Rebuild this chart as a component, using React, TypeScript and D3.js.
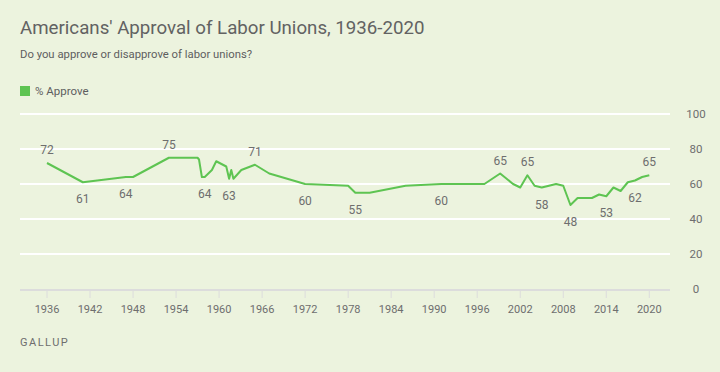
import React from 'react';
import * as d3 from 'd3';

// Gallup: % approve of labor unions
const years = [1936, 1941, 1947, 1948, 1953, 1957, 1957.2, 1957.6, 1958, 1959, 1959.6, 1961, 1961.4, 1961.7, 1962,
  1963.1, 1965, 1967, 1972, 1978, 1979, 1981, 1986, 1991, 1997, 1999.2, 2001, 2002, 2003, 2004, 2005, 2007, 2008,
  2009, 2010, 2012, 2013, 2014, 2015, 2016, 2017, 2018, 2019, 2020];
const approve = [72, 61, 64, 64, 75, 75, 74, 64, 64, 68, 73, 70, 63, 68, 63,
  68, 71, 66, 60, 59, 55, 55, 59, 60, 60, 66, 60, 58, 65, 59, 58, 60, 59,
  48, 52, 52, 54, 53, 58, 56, 61, 62, 64, 65];

// labelled points: year, text, above/below
const labelYears = [1936, 1941, 1947, 1953, 1958, 1961.4, 1965, 1972, 1979, 1991, 1999.2, 2003, 2005, 2009, 2014, 2018, 2020];
const labelText = ['72', '61', '64', '75', '64', '63', '71', '60', '55', '60', '65', '65', '58', '48', '53', '62', '65'];
const labelAbove = [true, false, false, true, false, false, true, false, false, false, true, true, false, false, false, false, true];

const xTicks = d3.range(1936, 2021, 6);
const yTicks = [0, 20, 40, 60, 80, 100];

const W = 720, H = 372;
const font = 'Roboto, "Liberation Sans", Arial, sans-serif';

export default function App() {
  const x = d3.scaleLinear().domain([1936, 2020]).range([47, 649.3]);
  const y = d3.scaleLinear().domain([0, 100]).range([289, 114]);

  const data = years.map((yr, i) => ({ yr, v: approve[i] }));
  const line = d3.line<{ yr: number; v: number }>()
    .x(d => x(d.yr))
    .y(d => y(d.v));

  const valueAt = (yr: number) => approve[years.indexOf(yr)];

  return (
    <svg width={W} height={H} style={{ position: 'absolute', left: 0, top: 0, fontFamily: font }}>
      <rect width={W} height={H} fill="#ecf3de" />
      <text x={20} y={34} fontSize={18.7} fill="#626262">Americans' Approval of Labor Unions, 1936-2020</text>
      <text x={20} y={58} fontSize={11.3} fill="#5e5e5e">Do you approve or disapprove of labor unions?</text>
      <rect x={20} y={86} width={10} height={10} fill="#5ec452" />
      <text x={35} y={95} fontSize={11.5} fill="#5e5e5e">% Approve</text>

      {yTicks.map(t => (
        <g key={t}>
          {t > 0 && <line x1={20} x2={670} y1={y(t)} y2={y(t)} stroke="#ffffff" strokeWidth={2} />}
          <text x={696} y={y(t)} dy="0.35em" textAnchor="middle" fontSize={11.5} fill="#6e6e6e">{t}</text>
        </g>
      ))}

      <line x1={20} x2={670} y1={y(0) + 1} y2={y(0) + 1} stroke="#dcdcdc" strokeWidth={2} />
      {xTicks.map(t => (
        <g key={t}>
          <line x1={x(t)} x2={x(t)} y1={y(0) + 1} y2={y(0) + 9} stroke="#dcdcdc" strokeWidth={1} />
          <text x={x(t)} y={309} dy="0.35em" textAnchor="middle" fontSize={11} fill="#6e6e6e">{t}</text>
        </g>
      ))}

      <path d={line(data) || ''} fill="none" stroke="#5ec452" strokeWidth={2} strokeLinejoin="round" />

      {labelYears.map((yr, i) => (
        <text key={i} x={x(yr)} y={y(valueAt(yr)) + (labelAbove[i] ? -13 : 17)} dy="0.35em"
          textAnchor="middle" fontSize={12} fill="#6e6e6e">{labelText[i]}</text>
      ))}

      <text x={20} y={342} dy="0.35em" fontSize={11} letterSpacing={1.5} fill="#6e6e6e">GALLUP</text>
    </svg>
  );
}
